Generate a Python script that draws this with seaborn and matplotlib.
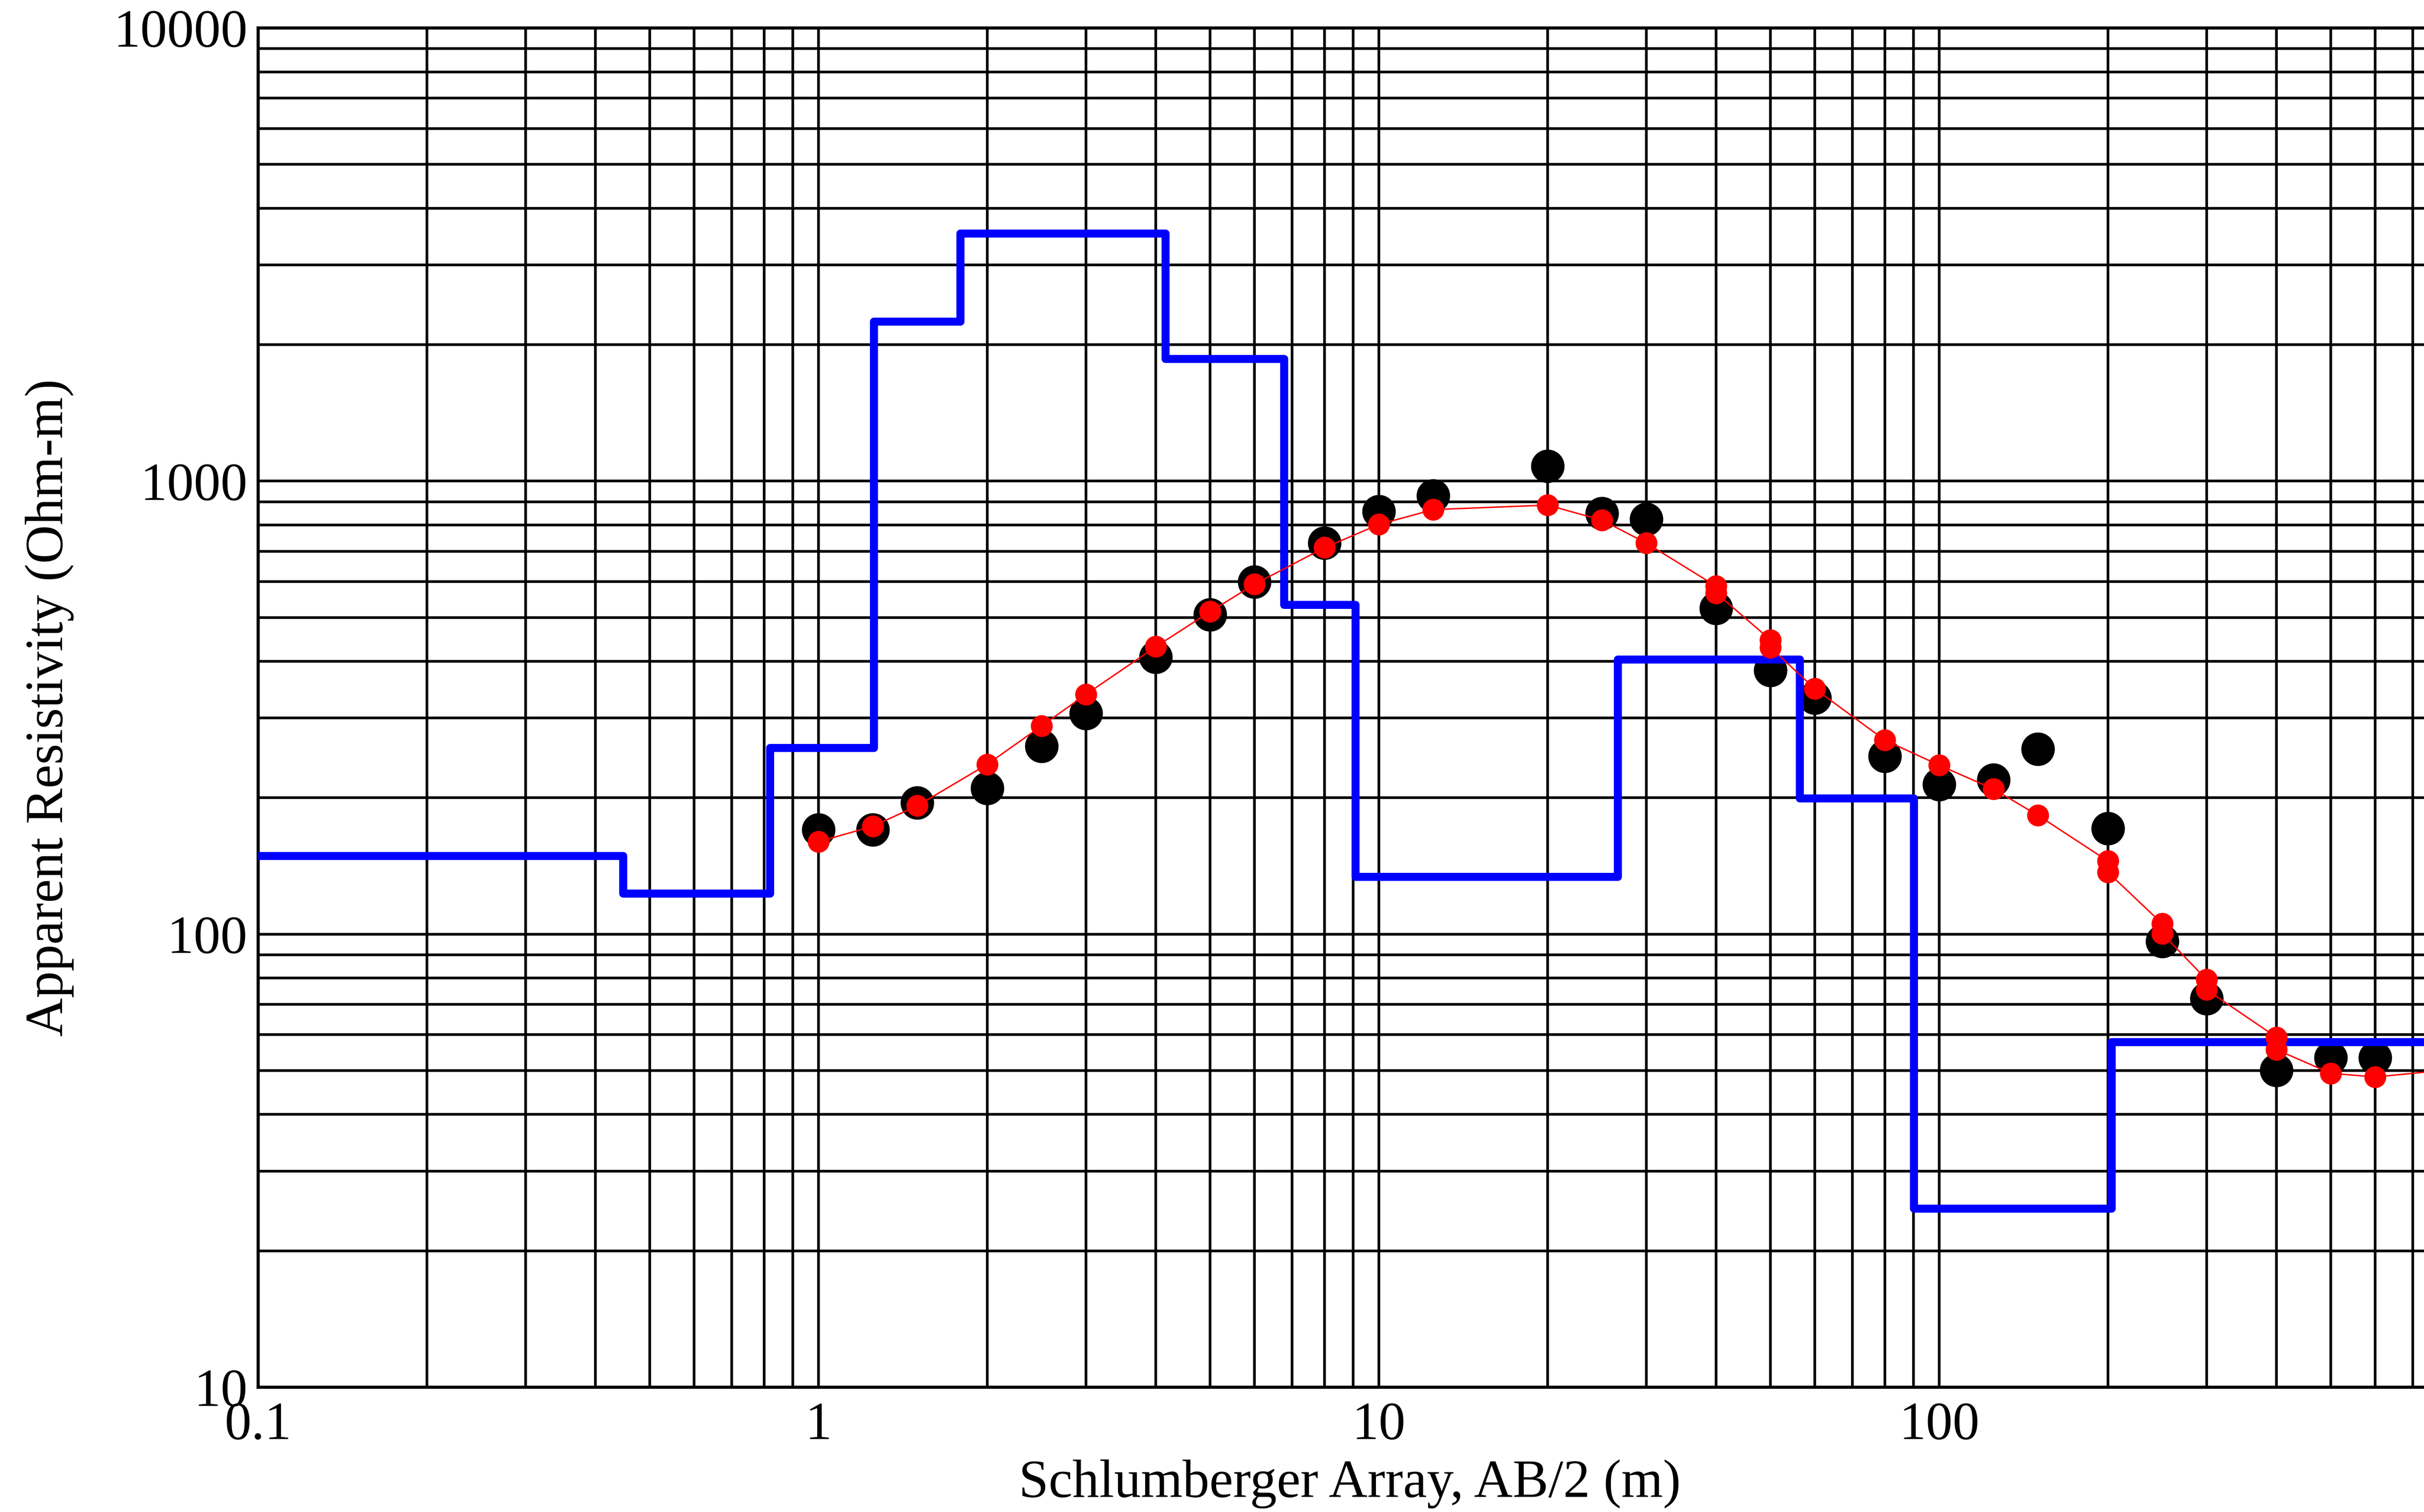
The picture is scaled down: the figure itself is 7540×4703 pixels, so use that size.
import matplotlib
matplotlib.use("Agg")
import matplotlib.pyplot as plt
import pandas as pd
import seaborn as sns
from matplotlib.ticker import FixedLocator, FixedFormatter, LogLocator, NullFormatter

# Field sounding: half electrode spacing AB/2 (m) and apparent resistivity (Ohm-m)
ab2_obs = [1, 1.25, 1.5, 2, 2.5, 3, 4, 5, 6, 8, 10, 12.5, 20, 25, 30,
           40, 50, 60, 80, 100, 125, 150, 200, 250, 300, 400, 500, 600]
rho_obs = [170, 170, 195, 210, 260, 307, 409, 507, 599, 730, 857, 928, 1079, 848, 824,
           524, 382, 332, 247, 214, 219, 256, 171, 96.4, 72.1, 50.1, 53.4, 53.4]

# Forward response of the layered model (overlapping segments repeat AB/2)
ab2_calc = [1, 1.25, 1.5, 2, 2.5, 3, 4, 5, 6, 8, 10, 12.5, 20, 25, 30,
            40, 40, 50, 50, 60, 80, 100, 125, 150, 200, 200, 250, 250,
            300, 300, 400, 400, 500, 600, 800]
rho_calc = [160, 173, 192, 237, 288, 338, 431, 515, 592, 713, 802, 865, 885, 820, 730,
            586, 566, 446, 429, 348, 268, 236, 209, 183, 145, 137, 105.5, 100.3,
            79.4, 75.4, 59.2, 55.6, 49.3, 48.4, 50.1]

# Layered earth model: top of each layer (m) and layer resistivity (Ohm-m)
layer_top = [0.1, 0.448, 0.819, 1.255, 1.79, 4.16, 6.77, 9.08, 26.7, 56.4, 90.1, 203]
layer_rho = [149, 123, 258, 2250, 3520, 1860, 533, 134, 404, 199.5, 24.8, 57.8]
model_end = 1000

xtick_values = [0.1, 1, 10, 100]
xtick_labels = ["0.1", "1", "10", "100"]
ytick_values = [10, 100, 1000, 10000]
ytick_labels = ["10", "100", "1000", "10000"]

obs = pd.DataFrame({"ab2": ab2_obs, "rho": rho_obs})
calc = pd.DataFrame({"ab2": ab2_calc, "rho": rho_calc})
model = pd.DataFrame({"depth": layer_top + [model_end],
                      "rho": layer_rho + [layer_rho[-1]]})

sns.set_style("white")
plt.rcParams["font.family"] = ["Liberation Serif", "DejaVu Serif"]

W, H, DPI = 7540, 4703, 100
fig = plt.figure(figsize=(W / DPI, H / DPI), dpi=DPI)
ax = fig.add_axes([803 / W, 1 - 4315 / H, 6972 / W, 4228 / H])
ax.set_xscale("log")
ax.set_yscale("log")

sns.scatterplot(data=obs, x="ab2", y="rho", ax=ax, s=5625, color="black",
                linewidth=0, zorder=2, legend=False)
sns.lineplot(data=model, x="depth", y="rho", ax=ax, estimator=None, sort=False,
             drawstyle="steps-post", color="#0000FF", linewidth=18,
             solid_joinstyle="round", zorder=3, legend=False)
sns.lineplot(data=calc, x="ab2", y="rho", ax=ax, estimator=None, sort=False,
             color="#FF0000", linewidth=3.2, zorder=4, legend=False)
sns.scatterplot(data=calc, x="ab2", y="rho", ax=ax, s=2400, color="#FF0000",
                linewidth=0, zorder=5, legend=False)

ax.set_xlim(0.1, 1000)
ax.set_ylim(10, 10000)

ax.xaxis.set_major_locator(FixedLocator(xtick_values))
ax.xaxis.set_major_formatter(FixedFormatter(xtick_labels))
ax.yaxis.set_major_locator(FixedLocator(ytick_values))
ax.yaxis.set_major_formatter(FixedFormatter(ytick_labels))
for axis in (ax.xaxis, ax.yaxis):
    axis.set_minor_locator(LogLocator(base=10, subs=range(2, 10), numticks=50))
    axis.set_minor_formatter(NullFormatter())

ax.set_axisbelow(True)
ax.grid(True, which="both", color="black", linewidth=6)
ax.tick_params(which="both", direction="out", length=4, width=6,
               color="black", labelsize=120, labelcolor="black")
ax.tick_params(axis="x", which="both", pad=28)
ax.tick_params(axis="y", which="both", pad=20)
for side in ("left", "bottom", "top", "right"):
    ax.spines[side].set_color("black")
    ax.spines[side].set_linewidth(7)

ax.set_xlabel("Schlumberger Array, AB/2 (m)", fontsize=120, color="black")
ax.set_ylabel("Apparent Resistivity (Ohm-m)", fontsize=120, color="black")
ax.xaxis.set_label_coords(0.487, -0.0532)
ax.yaxis.set_label_coords(-0.0822, 0.5)

fig.savefig("out.png", dpi=DPI, facecolor="white")
